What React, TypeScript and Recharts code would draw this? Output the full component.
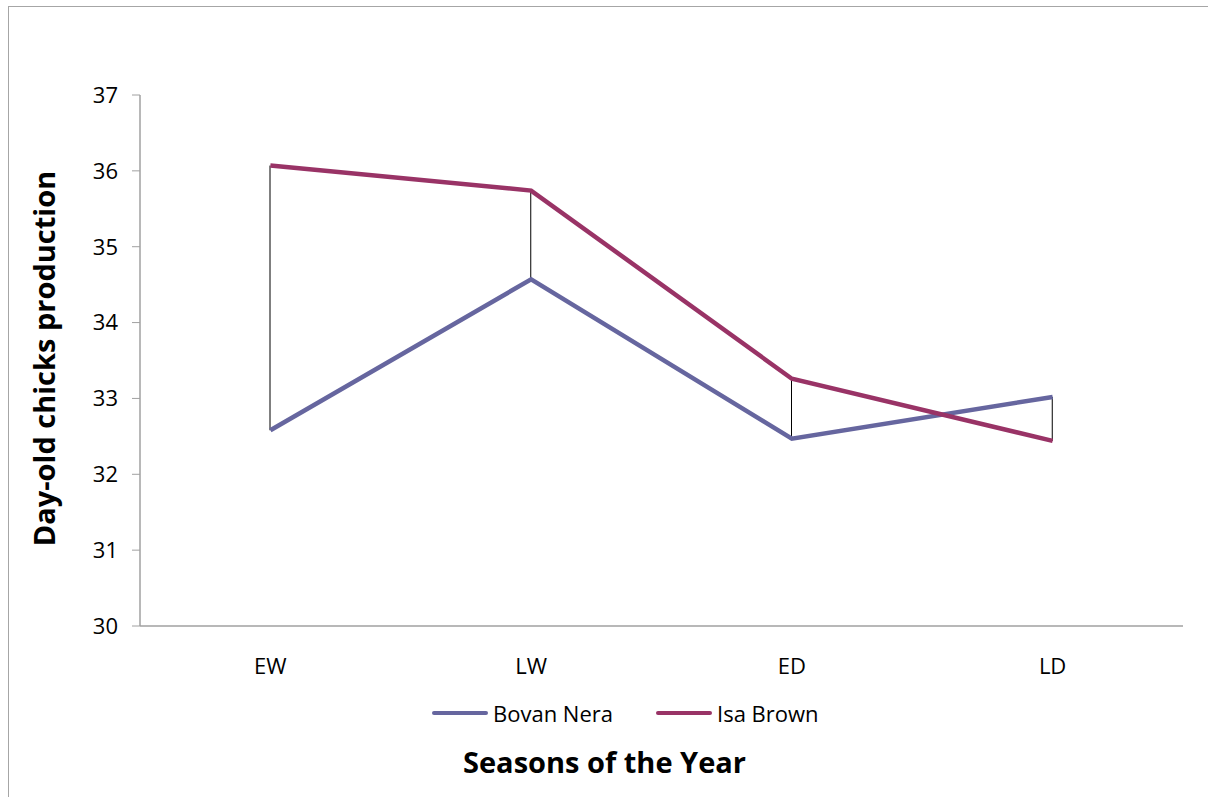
import {
  ComposedChart,
  Line,
  Bar,
  XAxis,
  YAxis,
  Legend,
  Label,
} from 'recharts';

const seasons = ['EW', 'LW', 'ED', 'LD'];
const bovanNera = [32.58, 34.57, 32.47, 33.02];
const isaBrown = [36.07, 35.74, 33.26, 32.44];
const yTicks = [30, 31, 32, 33, 34, 35, 36, 37];

const BOVAN = '#66669f';
const ISA = '#993366';
const FONT = '"Open Sans", Lato, sans-serif';

const data = seasons.map((s, i) => ({
  season: s,
  bovan: bovanNera[i],
  isa: isaBrown[i],
  range: [Math.min(bovanNera[i], isaBrown[i]), Math.max(bovanNera[i], isaBrown[i])],
}));

// thin black high-low connector drawn in the middle of the band
const HighLow = (props: any) => {
  const { x, y, width, height } = props;
  const cx = x + width / 2;
  return <line x1={cx} y1={y} x2={cx} y2={y + height} stroke="#000" strokeWidth={1} />;
};

const legendItems = [
  { name: 'Bovan Nera', color: BOVAN },
  { name: 'Isa Brown', color: ISA },
];

const LegendContent = () => (
  <div style={{ display: 'flex', alignItems: 'center', fontFamily: FONT, fontSize: 22, color: '#000' }}>
    {legendItems.map((it) => (
      <div key={it.name} style={{ display: 'flex', alignItems: 'center', marginRight: 43 }}>
        <span
          style={{
            display: 'inline-block',
            width: 56,
            height: 4.5,
            borderRadius: 2,
            background: it.color,
            marginRight: 5,
          }}
        />
        <span>{it.name}</span>
      </div>
    ))}
  </div>
);

export default function App() {
  return (
    <div style={{ position: 'relative', width: 1208, height: 797, overflow: 'hidden', background: '#fff' }}>
      <style>{'body{margin:0;overflow:hidden;}'}</style>
      <div
        style={{
          position: 'absolute',
          left: 8,
          top: 6,
          width: 1300,
          height: 900,
          borderTop: '1px solid #a6a6a6',
          borderLeft: '1px solid #a6a6a6',
        }}
      />
      <div style={{ position: 'absolute', left: 0, top: 0 }}>
        <ComposedChart
          width={1208}
          height={797}
          data={data}
          margin={{ top: 95, right: 25, bottom: 0, left: 0 }}
        >
          <XAxis
            dataKey="season"
            height={171}
            axisLine={{ stroke: '#a0a0a0', strokeWidth: 1.5 }}
            tickLine={false}
            tickSize={8}
            tickMargin={24}
            tick={{ fontSize: 22, fill: '#000', fontFamily: FONT }}
          >
            <Label
              content={({ viewBox }: any) => {
                const cx = viewBox.x + viewBox.width / 2 - 57;
                const by = viewBox.y + viewBox.height - 24;
                return (
                  <text
                    x={cx}
                    y={by}
                    textAnchor="middle"
                    style={{ fontSize: 29, fontWeight: 700, fill: '#000', fontFamily: FONT }}
                  >
                    Seasons of the Year
                  </text>
                );
              }}
            />
          </XAxis>
          <YAxis
            width={140}
            domain={[30, 37]}
            ticks={yTicks}
            interval={0}
            axisLine={{ stroke: '#a0a0a0', strokeWidth: 1.5 }}
            tickLine={{ stroke: '#a0a0a0' }}
            tickSize={8}
            tickMargin={14}
            tick={{ fontSize: 22, fill: '#000', fontFamily: FONT }}
          >
            <Label
              content={({ viewBox }: any) => {
                const cy = viewBox.y + viewBox.height / 2 - 2;
                return (
                  <text
                    x={43}
                    y={cy}
                    transform={`rotate(-90, 43, ${cy})`}
                    textAnchor="middle"
                    dominantBaseline="central"
                    style={{ fontSize: 29, fontWeight: 700, fill: '#000', fontFamily: FONT }}
                  >
                    Day-old chicks production
                  </text>
                );
              }}
            />
          </YAxis>
          <Legend
            verticalAlign="middle"
            align="center"
            content={<LegendContent />}
            wrapperStyle={{ position: 'absolute', left: 432, top: 698, width: 500 }}
          />
          <Bar dataKey="range" barSize={10} shape={<HighLow />} legendType="none" isAnimationActive={false} />
          <Line
            type="linear"
            dataKey="bovan"
            name="Bovan Nera"
            stroke={BOVAN}
            strokeWidth={4.5}
            dot={false}
            activeDot={false}
            isAnimationActive={false}
          />
          <Line
            type="linear"
            dataKey="isa"
            name="Isa Brown"
            stroke={ISA}
            strokeWidth={4.5}
            dot={false}
            activeDot={false}
            isAnimationActive={false}
          />
        </ComposedChart>
      </div>
    </div>
  );
}
